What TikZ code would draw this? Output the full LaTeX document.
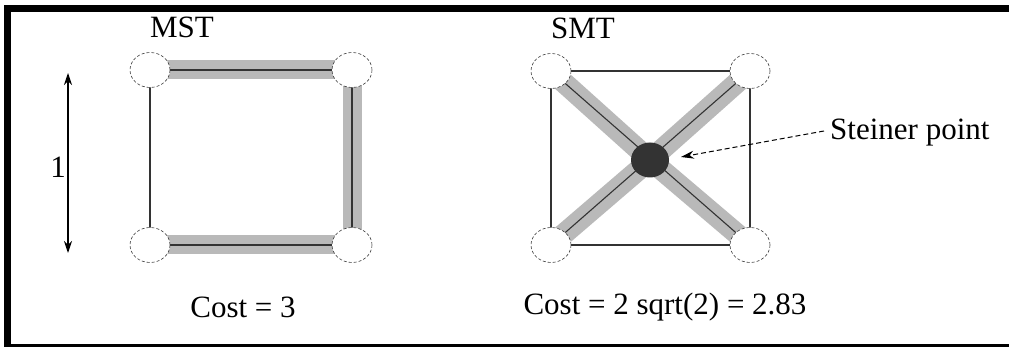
\documentclass[tikz,border=0pt]{standalone}
\usepackage{fontspec}
\setmainfont{Liberation Serif}
\usetikzlibrary{shapes.geometric,arrows.meta,backgrounds}
\definecolor{bandgray}{HTML}{B9B9B9}
\definecolor{dotdark}{HTML}{333333}
\tikzset{
  term/.style={ellipse, draw=black!75, densely dashed, line width=0.6pt, fill=white, minimum width=40pt, minimum height=35pt, inner sep=0pt},
  steiner/.style={ellipse, fill=dotdark, draw=none, minimum width=38pt, minimum height=35pt, inner sep=0pt},
  band/.style={draw=bandgray, line width=19pt},
  thinedge/.style={draw=black!80, line width=1.1pt},
  lbl/.style={font=\fontsize{31}{37}\selectfont, inner sep=0pt},
  frameline/.style={draw=black}
}
\begin{document}
\begin{tikzpicture}[x=1pt,y=-1pt]
\useasboundingbox (0,0) rectangle (1009,347);

% MST nodes
\node[term] (a) at (150,70) {};
\node[term] (b) at (352,70) {};
\node[term] (c) at (150,245) {};
\node[term] (d) at (352,245) {};
% SMT nodes
\node[term] (p) at (551,71) {};
\node[term] (q) at (750,71) {};
\node[term] (r) at (551,245) {};
\node[term] (s) at (750,245) {};
\node[steiner] (st) at (650,160) {};

\begin{pgfonlayer}{background}
  \fill[white] (0,0) rectangle (1009,347);
  \draw[band] (a.center) -- (b.center);
  \draw[band] (b.center) -- (d.center);
  \draw[band] (c.center) -- (d.center);
  \draw[thinedge] (a.center) -- (b.center);
  \draw[thinedge] (b.center) -- (d.center);
  \draw[thinedge] (c.center) -- (d.center);
  \draw[thinedge] (a.center) -- (c.center);
  % SMT
  \draw[thinedge] (p.center) -- (q.center) -- (s.center) -- (r.center) -- cycle;
  \draw[band, line width=21pt] (p.center) -- (st.center) -- (s.center);
  \draw[band, line width=21pt] (q.center) -- (st.center) -- (r.center);
  \draw[thinedge] (p.center) -- (s.center);
  \draw[thinedge] (q.center) -- (r.center);
\end{pgfonlayer}

% frame
\fill[black] (4,5) rectangle (1009,12);
\fill[black] (4,5) rectangle (11,347);
\fill[black] (4,344) rectangle (1009,347);

% labels
\node[lbl] (mst) at (182,27) {MST};
\node[lbl] (smt) at (583,28) {SMT};
\node[lbl] (one) at (58,167) {1};
\node[lbl] (c1) at (243,307) {Cost = 3};
\node[lbl] (c2) at (665,307) {Cost = 2 sqrt(2) = 2.83};
\node[lbl, anchor=west] (stl) at (830,133) {Steiner point};

% dimension arrow
\coordinate (ut) at (68,73);
\coordinate (ub) at (68,253);
\draw[line width=1.1pt, {Stealth[length=12pt,width=8pt]}-{Stealth[length=12pt,width=8pt]}] (ut) -- (ub);

% Steiner arrow
\coordinate (sa) at (681,157);
\draw[line width=1pt, dashed, dash pattern=on 5pt off 3pt, -{Stealth[length=13pt,width=8pt]}] ([xshift=-6pt,yshift=2pt]stl.west) -- (sa);
\end{tikzpicture}
\end{document}
